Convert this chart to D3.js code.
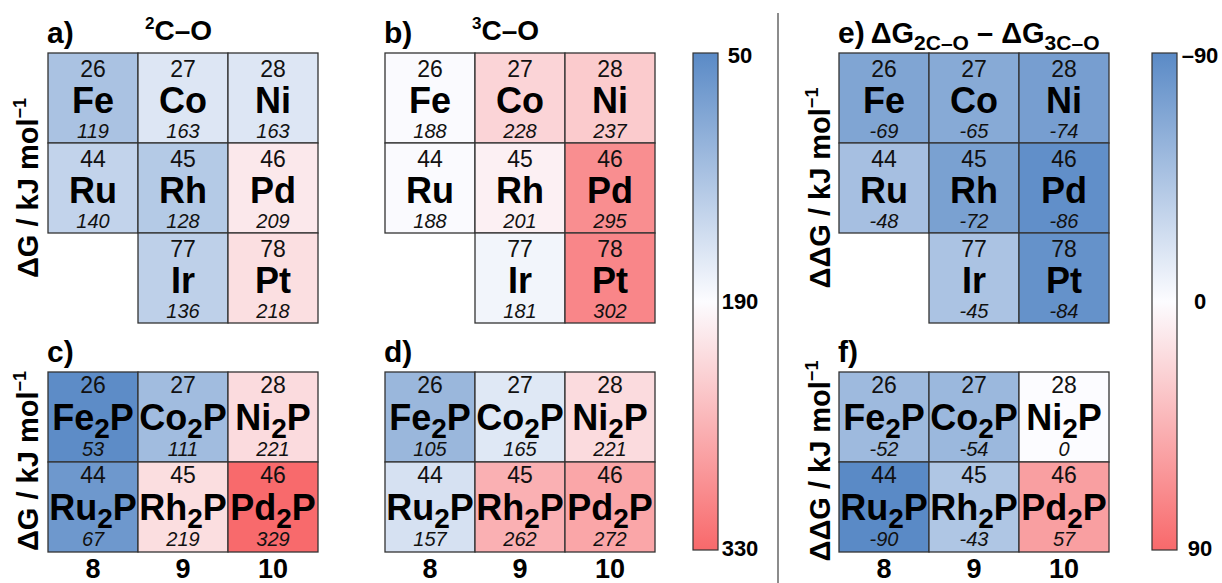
<!DOCTYPE html>
<html>
<head>
<meta charset="utf-8">
<script src="https://cdn.jsdelivr.net/npm/d3@7"></script>
<style>
  body { margin: 0; background: #fff; }
  svg { display: block; font-family: "Liberation Sans", Arial, sans-serif; }
</style>
</head>
<body>
<svg id="chart"></svg>
<script>
// metals (panels a, b, e)
const metals = ['Fe', 'Co', 'Ni', 'Ru', 'Rh', 'Pd', 'Ir', 'Pt'];
const atomicNums = [26, 27, 28, 44, 45, 46, 77, 78];
const metalGroups = [8, 9, 10, 8, 9, 10, 9, 10];
const metalPeriods = [4, 4, 4, 5, 5, 5, 6, 6];
const dG2CO = [119, 163, 163, 140, 128, 209, 136, 218];
const dG3CO = [188, 228, 237, 188, 201, 295, 181, 302];
const ddGMetal = [-69, -65, -74, -48, -72, -86, -45, -84];

// phosphides (panels c, d, f)
const phosMetals = ['Fe', 'Co', 'Ni', 'Ru', 'Rh', 'Pd'];
const phosNums = [26, 27, 28, 44, 45, 46];
const phosGroups = [8, 9, 10, 8, 9, 10];
const phosPeriods = [4, 4, 4, 5, 5, 5];
const dGc = [53, 111, 221, 67, 219, 329];
const dGd = [105, 165, 221, 157, 262, 272];
const ddGPhos = [-52, -54, 0, -90, -43, 57];

const groups = [8, 9, 10];
const dGTicks = [50, 190, 330];
const ddGTicks = [-90, 0, 90];
const colorStops = ['#5A8AC6', '#FCFCFF', '#F8696B'];

const width = 1222, height = 583;
const svg = d3.select('#chart').attr('width', width).attr('height', height);

const dGColor = d3.scaleLinear().domain(dGTicks).range(colorStops);
const ddGColor = d3.scaleLinear().domain(ddGTicks).range(colorStops);

const cell = 90;
const xBand = d3.scaleBand().domain(groups).range([0, cell * 3]);
const yBand = d3.scaleBand().domain([4, 5, 6]).range([0, cell * 3]);

function drawPanel(x0, y0, syms, nums, grp, per, vals, color, phos) {
    const g = svg.append('g').attr('transform', `translate(${x0},${y0})`);
    const cells = g.selectAll('g.cell')
        .data(syms.map((s, i) => ({ sym: s, num: nums[i], grp: grp[i], per: per[i], val: vals[i] })))
        .enter().append('g')
        .attr('transform', d => `translate(${xBand(d.grp)},${yBand(d.per)})`);

    cells.append('rect')
        .attr('width', xBand.bandwidth())
        .attr('height', yBand.bandwidth())
        .attr('fill', d => color(d.val))
        .attr('stroke', '#333')
        .attr('stroke-width', 1.3);

    const cx = xBand.bandwidth() / 2;
    cells.append('text')
        .attr('x', cx).attr('y', phos ? 21 : 24)
        .attr('text-anchor', 'middle')
        .attr('font-size', 23).attr('fill', '#111')
        .text(d => d.num);

    const sym = cells.append('text')
        .attr('x', cx).attr('y', phos ? 58 : 60)
        .attr('text-anchor', 'middle')
        .attr('font-size', phos ? 36 : 36).attr('font-weight', 'bold').attr('fill', '#000');
    if (phos) {
        sym.append('tspan').text(d => d.sym);
        sym.append('tspan').attr('dy', 8).attr('font-size', 28).text('2');
        sym.append('tspan').attr('dy', -8).text('P');
    } else {
        sym.text(d => d.sym);
    }

    cells.append('text')
        .attr('x', cx).attr('y', phos ? 84 : 85)
        .attr('text-anchor', 'middle')
        .attr('font-size', 20).attr('font-style', 'italic').attr('fill', '#111')
        .text(d => d.val);

    if (phos) {
        g.selectAll('text.grp')
            .data(groups)
            .enter().append('text')
            .attr('x', d => xBand(d) + cx)
            .attr('y', 206)
            .attr('text-anchor', 'middle')
            .attr('font-size', 27).attr('font-weight', 'bold')
            .text(d => d);
    }
}

function panelLetter(x, y, s) {
    svg.append('text').attr('x', x).attr('y', y)
        .attr('font-size', 30).attr('font-weight', 'bold').text(s);
}

function yLabel(x, y, prefix) {
    const t = svg.append('text')
        .attr('transform', `translate(${x},${y}) rotate(-90)`)
        .attr('text-anchor', 'middle')
        .attr('font-size', 29).attr('font-weight', 'bold');
    t.append('tspan').text(prefix + ' / kJ mol');
    t.append('tspan').attr('font-size', 18).attr('dy', -12).text('\u22121');
}

function colorBar(x0, ticks, color, labelX, fmt) {
    const y0 = 53, y1 = 550, w = 25;
    const id = 'grad' + x0;
    const grad = svg.append('defs').append('linearGradient')
        .attr('id', id).attr('x1', 0).attr('y1', 0).attr('x2', 0).attr('y2', 1);
    grad.selectAll('stop').data(ticks).enter().append('stop')
        .attr('offset', (d, i) => i / (ticks.length - 1))
        .attr('stop-color', d => color(d));
    svg.append('rect')
        .attr('x', x0).attr('y', y0).attr('width', w).attr('height', y1 - y0)
        .attr('fill', `url(#${id})`)
        .attr('stroke', '#333').attr('stroke-width', 1.2);
    const yl = d3.scaleLinear().domain([ticks[0], ticks[ticks.length - 1]]).range([y0 + 2, y1 - 2]);
    svg.selectAll(null).data(ticks).enter().append('text')
        .attr('x', labelX).attr('y', d => yl(d))
        .attr('dy', '0.36em')
        .attr('text-anchor', 'middle')
        .attr('font-size', 22).attr('font-weight', 'bold')
        .text(fmt);
}

// panels
drawPanel(48, 53, metals, atomicNums, metalGroups, metalPeriods, dG2CO, dGColor, false);
drawPanel(385, 53, metals, atomicNums, metalGroups, metalPeriods, dG3CO, dGColor, false);
drawPanel(839, 53, metals, atomicNums, metalGroups, metalPeriods, ddGMetal, ddGColor, false);
drawPanel(48, 372, phosMetals, phosNums, phosGroups, phosPeriods, dGc, dGColor, true);
drawPanel(385, 372, phosMetals, phosNums, phosGroups, phosPeriods, dGd, dGColor, true);
drawPanel(839, 372, phosMetals, phosNums, phosGroups, phosPeriods, ddGPhos, ddGColor, true);

// titles
panelLetter(47, 43, 'a)');
panelLetter(384, 43, 'b)');
panelLetter(47, 362, 'c)');
panelLetter(384, 362, 'd)');
panelLetter(838, 362, 'f)');

function spinTitle(x, sup) {
    const t = svg.append('text').attr('x', x).attr('y', 40)
        .attr('font-size', 28).attr('font-weight', 'bold');
    t.append('tspan').attr('font-size', 17).attr('dy', -11).text(sup);
    t.append('tspan').attr('dy', 11).text('C\u2013O');
}
spinTitle(145, '2');
spinTitle(472, '3');

const eTitle = svg.append('text').attr('x', 838).attr('y', 43)
    .attr('font-size', 29).attr('font-weight', 'bold');
eTitle.append('tspan').attr('font-size', 30).text('e)\u2009');
eTitle.append('tspan').text('\u0394G');
eTitle.append('tspan').attr('font-size', 21).attr('dy', 7).text('2C\u2013O');
eTitle.append('tspan').attr('dy', -7).text(' \u2013 \u0394G');
eTitle.append('tspan').attr('font-size', 21).attr('dy', 7).text('3C\u2013O');

// axis labels
yLabel(38, 188, '\u0394G');
yLabel(38, 461, '\u0394G');
yLabel(830, 188, '\u0394\u0394G');
yLabel(830, 461, '\u0394\u0394G');

// colour bars
colorBar(693, dGTicks, dGColor, 740, d => d);
colorBar(1152, ddGTicks, ddGColor, 1200, d => d < 0 ? '\u2013' + Math.abs(d) : d);

// divider
svg.append('line')
    .attr('x1', 778).attr('x2', 778).attr('y1', 13).attr('y2', height)
    .attr('stroke', '#666').attr('stroke-width', 1.5);
</script>
</body>
</html>
